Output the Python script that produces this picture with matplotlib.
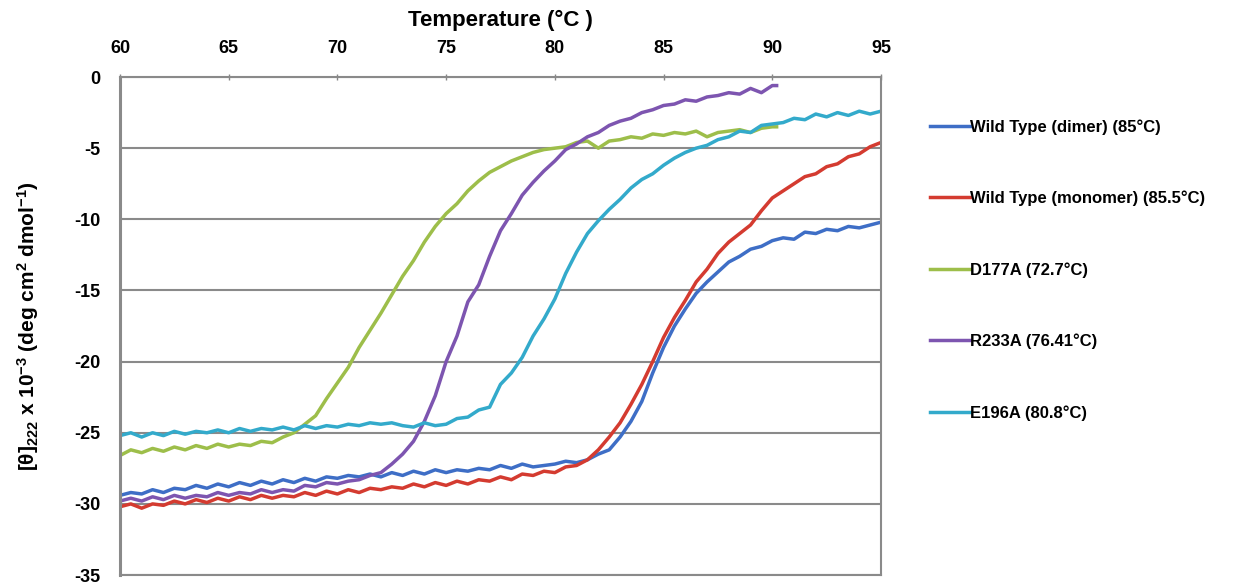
import matplotlib
matplotlib.use("Agg")
import matplotlib.pyplot as plt

FONT = 'Liberation Sans'
plt.rcParams['font.family'] = [FONT, 'DejaVu Sans']
plt.rcParams['axes.unicode_minus'] = False
plt.rcParams['mathtext.fontset'] = 'custom'
plt.rcParams['mathtext.rm'] = FONT + ':bold'
plt.rcParams['mathtext.it'] = FONT + ':bold'
plt.rcParams['mathtext.bf'] = FONT + ':bold'

temps_full = [60, 60.5, 61, 61.5, 62, 62.5, 63, 63.5, 64, 64.5, 65, 65.5, 66, 66.5, 67, 67.5,
              68, 68.5, 69, 69.5, 70, 70.5, 71, 71.5, 72, 72.5, 73, 73.5, 74, 74.5, 75, 75.5,
              76, 76.5, 77, 77.5, 78, 78.5, 79, 79.5, 80, 80.5, 81, 81.5, 82, 82.5, 83, 83.5,
              84, 84.5, 85, 85.5, 86, 86.5, 87, 87.5, 88, 88.5, 89, 89.5, 90, 90.5, 91, 91.5,
              92, 92.5, 93, 93.5, 94, 94.5, 95]
temps_short = [60, 60.5, 61, 61.5, 62, 62.5, 63, 63.5, 64, 64.5, 65, 65.5, 66, 66.5, 67, 67.5,
               68, 68.5, 69, 69.5, 70, 70.5, 71, 71.5, 72, 72.5, 73, 73.5, 74, 74.5, 75, 75.5,
               76, 76.5, 77, 77.5, 78, 78.5, 79, 79.5, 80, 80.5, 81, 81.5, 82, 82.5, 83, 83.5,
               84, 84.5, 85, 85.5, 86, 86.5, 87, 87.5, 88, 88.5, 89, 89.5, 90, 90.2]

wt_dimer = [-29.4, -29.2, -29.3, -29.0, -29.2, -28.9, -29.0, -28.7, -28.9, -28.6, -28.8, -28.5,
            -28.7, -28.4, -28.6, -28.3, -28.5, -28.2, -28.4, -28.1, -28.2, -28.0, -28.1, -27.9,
            -28.1, -27.8, -28.0, -27.7, -27.9, -27.6, -27.8, -27.6, -27.7, -27.5, -27.6, -27.3,
            -27.5, -27.2, -27.4, -27.3, -27.2, -27.0, -27.1, -26.9, -26.5, -26.2, -25.3, -24.2,
            -22.8, -20.8, -19.0, -17.5, -16.3, -15.2, -14.4, -13.7, -13.0, -12.6, -12.1, -11.9,
            -11.5, -11.3, -11.4, -10.9, -11.0, -10.7, -10.8, -10.5, -10.6, -10.4, -10.2]
wt_monomer = [-30.2, -30.0, -30.3, -30.0, -30.1, -29.8, -30.0, -29.7, -29.9, -29.6, -29.8, -29.5,
              -29.7, -29.4, -29.6, -29.4, -29.5, -29.2, -29.4, -29.1, -29.3, -29.0, -29.2, -28.9,
              -29.0, -28.8, -28.9, -28.6, -28.8, -28.5, -28.7, -28.4, -28.6, -28.3, -28.4, -28.1,
              -28.3, -27.9, -28.0, -27.7, -27.8, -27.4, -27.3, -26.9, -26.2, -25.3, -24.3, -23.0,
              -21.6, -20.0, -18.3, -16.9, -15.7, -14.4, -13.5, -12.4, -11.6, -11.0, -10.4, -9.4,
              -8.5, -8.0, -7.5, -7.0, -6.8, -6.3, -6.1, -5.6, -5.4, -4.9, -4.6]
d177a = [-26.6, -26.2, -26.4, -26.1, -26.3, -26.0, -26.2, -25.9, -26.1, -25.8, -26.0, -25.8,
         -25.9, -25.6, -25.7, -25.3, -25.0, -24.4, -23.8, -22.6, -21.5, -20.4, -19.0, -17.8,
         -16.6, -15.3, -14.0, -12.9, -11.6, -10.5, -9.6, -8.9, -8.0, -7.3, -6.7, -6.3,
         -5.9, -5.6, -5.3, -5.1, -5.0, -4.9, -4.6, -4.5, -5.0, -4.5, -4.4, -4.2,
         -4.3, -4.0, -4.1, -3.9, -4.0, -3.8, -4.2, -3.9, -3.8, -3.7, -3.9, -3.6, -3.5, -3.5]
r233a = [-29.8, -29.6, -29.8, -29.5, -29.7, -29.4, -29.6, -29.4, -29.5, -29.2, -29.4, -29.2,
         -29.3, -29.0, -29.2, -29.0, -29.1, -28.7, -28.8, -28.5, -28.6, -28.4, -28.3, -28.0,
         -27.8, -27.2, -26.5, -25.6, -24.2, -22.4, -20.0, -18.2, -15.8, -14.6, -12.6, -10.8,
         -9.6, -8.3, -7.4, -6.6, -5.9, -5.1, -4.7, -4.2, -3.9, -3.4, -3.1, -2.9,
         -2.5, -2.3, -2.0, -1.9, -1.6, -1.7, -1.4, -1.3, -1.1, -1.2, -0.8, -1.1, -0.6, -0.6]
e196a = [-25.2, -25.0, -25.3, -25.0, -25.2, -24.9, -25.1, -24.9, -25.0, -24.8, -25.0, -24.7,
         -24.9, -24.7, -24.8, -24.6, -24.8, -24.5, -24.7, -24.5, -24.6, -24.4, -24.5, -24.3,
         -24.4, -24.3, -24.5, -24.6, -24.3, -24.5, -24.4, -24.0, -23.9, -23.4, -23.2, -21.6,
         -20.8, -19.7, -18.2, -17.0, -15.6, -13.8, -12.3, -11.0, -10.1, -9.3, -8.6, -7.8,
         -7.2, -6.8, -6.2, -5.7, -5.3, -5.0, -4.8, -4.4, -4.2, -3.8, -3.9, -3.4,
         -3.3, -3.2, -2.9, -3.0, -2.6, -2.8, -2.5, -2.7, -2.4, -2.6, -2.4]

labels = ["Wild Type (dimer) (85°C)", "Wild Type (monomer) (85.5°C)", "D177A (72.7°C)",
          "R233A (76.41°C)", "E196A (80.8°C)"]
x_ticks = [60, 65, 70, 75, 80, 85, 90, 95]
y_ticks = [0, -5, -10, -15, -20, -25, -30, -35]

colors = ['#3E6EC6', '#D43B30', '#9DBE4A', '#7D55B0', '#33AACB']

fig = plt.figure(figsize=(12.47, 5.88), dpi=100)
ax = fig.add_axes([0.0962, 0.022, 0.6103, 0.847])

series = [(temps_full, wt_dimer), (temps_full, wt_monomer), (temps_short, d177a),
          (temps_short, r233a), (temps_full, e196a)]
for (t, v), c, lab in zip(series, colors, labels):
    ax.plot(t, v, color=c, lw=2.5, label=lab)

ax.set_xlim(60, 95)
ax.set_ylim(-35, 0)
ax.xaxis.tick_top()
ax.xaxis.set_label_position('top')
ax.set_xticks(x_ticks)
ax.set_yticks(y_ticks)
ax.set_xticklabels([str(v) for v in x_ticks], fontsize=13, fontweight='bold')
ax.set_yticklabels([str(v) for v in y_ticks], fontsize=13, fontweight='bold')
ax.tick_params(axis='x', direction='inout', length=5, width=1, color='#868686', pad=12)
ax.tick_params(axis='y', length=0, pad=14)
ax.set_xlabel('Temperature (°C )', fontsize=16, fontweight='bold', labelpad=10)
ax.set_ylabel(r'[$\theta$]$_{222}$ x 10$^{-3}$ (deg cm$^{2}$ dmol$^{-1}$)',
              fontsize=15, fontweight='bold', labelpad=24)

ax.grid(axis='y', color='#8a8a8a', lw=1.5)
ax.set_axisbelow(True)
for s in ax.spines.values():
    s.set_color('#8a8a8a')
    s.set_linewidth(1.5)
ax.spines['left'].set_linewidth(2.2)

leg = ax.legend(loc='upper left', bbox_to_anchor=(1.055, 0.929), frameon=False,
                fontsize=12, handlelength=2.4, handletextpad=0.05, labelspacing=3.36,
                borderaxespad=0)
for txt in leg.get_texts():
    txt.set_fontweight('bold')

fig.savefig('out.png', dpi=100)
